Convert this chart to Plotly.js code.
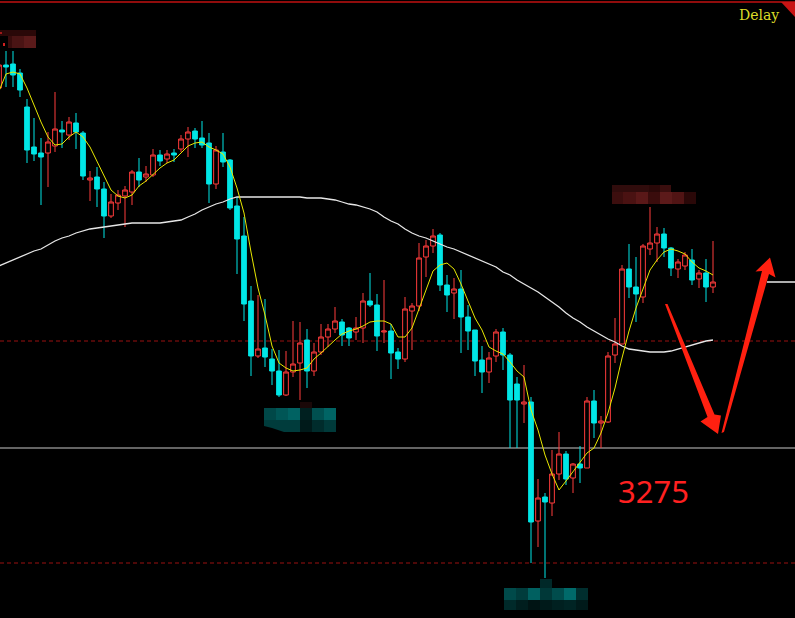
<!DOCTYPE html>
<html><head><meta charset="utf-8">
<script src="https://cdn.plot.ly/plotly-3.0.1.min.js"></script>
<style>html,body{margin:0;padding:0;background:#000;overflow:hidden}#chart{width:795px;height:618px}</style>
</head><body><div id="chart"></div>
<script>
// ---- data ----
const openP = [3455,3466.5,3467,3462.5,3445.5,3425.5,3422.5,3422.5,3426,3434,
3431.5,3437.5,3432.5,3409,3410.5,3404.5,3391,3397.5,3401,3403,
3413,3410.5,3411.5,3421.5,3419.5,3422.5,3424.5,3429.5,3433.5,3430,
3427.5,3407,3423,3419,3396,3381,3348.5,3321,3325,3319.5,
3313.5,3301.5,3313,3317.5,3329,3313.5,3323,3330.5,3334.5,3338,
3335,3333,3335,3348.5,3346.5,3333,3333.5,3323,3319.5,3343.5,
3346,3370.5,3376,3381.5,3356.5,3352.5,3354.5,3340.5,3334,3319,
3313,3321,3333,3321.5,3307,3297,3298,3238.5,3250.5,3247.5,
3262,3272,3260,3267,3265,3298.5,3287.5,3288,3321.5,3327,
3364.5,3355.5,3350.5,3374.5,3377.5,3382,3375,3364.5,3366,3369,
3359.5,3362.5,3355.5];
const highP = [3468,3473.5,3473.5,3464.5,3449.5,3440,3430,3433,3453,3438.5,
3440.5,3442.5,3433.5,3413.5,3415.5,3408,3402,3404,3406,3414,
3420,3416,3424.5,3424,3424,3424.5,3431.5,3435.5,3435,3438.5,
3432.5,3426,3432.5,3419.5,3400.5,3390.5,3356,3351.5,3349.5,3324.5,
3324,3323.5,3338.5,3338,3334.5,3327.5,3337,3337,3345.5,3339.5,
3335.5,3340.5,3352.5,3362.5,3352,3359,3337,3325,3350.5,3347.5,
3377.5,3379,3384.5,3382.5,3361.5,3360,3364,3346.5,3334,3326,
3323,3334.5,3335,3322.5,3310.5,3316.5,3300.5,3259.5,3252.5,3274,
3283,3273.5,3267.5,3276,3300.5,3304,3291,3323,3340,3366.5,
3377,3370.5,3377,3395.5,3385.5,3385,3375.5,3369.5,3373,3374.5,
3364,3369.5,3378.5];
const lowP = [3453,3455.5,3455.5,3450.5,3417.5,3418.5,3396.5,3405.5,3423,3425,
3429,3424.5,3409,3398.5,3395.5,3380,3390,3394,3385.5,3396.5,
3405.5,3408,3410.5,3416,3417.5,3418,3423,3420.5,3425,3425,
3397.5,3404.5,3415.5,3394,3362,3338.5,3311,3320,3315.5,3306.5,
3300.5,3301,3310.5,3299,3305,3311,3321.5,3325.5,3332.5,3326,
3326,3329,3327.5,3345.5,3323.5,3327.5,3309.5,3314.5,3318,3324,
3343.5,3360.5,3372.5,3353.5,3343,3339.5,3322.5,3324,3311,3302.5,
3307.5,3318,3314,3275,3275,3287.5,3217.5,3225.5,3210,3241,
3259,3256.5,3252.5,3257.5,3265,3280,3275,3287.5,3317.5,3327,
3350,3338,3347.5,3371.5,3368,3370.5,3361,3360,3364,3356.5,
3355,3348,3352.5];
const closeP = [3466.5,3465.5,3461.5,3454,3424,3422,3420.5,3428,3434.5,3433,
3438,3433,3411,3410,3404.5,3391,3398,3401.5,3404,3413,
3409,3412,3421.5,3418.5,3422,3421.5,3429.5,3433,3429.5,3426.5,
3407,3424,3418,3395,3379.5,3347,3321,3324.5,3320.5,3313.5,
3301.5,3313,3317,3327.5,3313.5,3323,3330.5,3334.5,3338.5,3331.5,
3330,3335,3348.5,3346.5,3331,3333.5,3322.5,3319.5,3344.5,3346,
3370,3376,3381,3356.5,3351.5,3354.5,3340.5,3333.5,3318.5,3313,
3320,3333,3321.5,3299,3299,3298,3238,3250,3248,3262,
3272,3259.5,3267,3265,3298.5,3287.5,3288.5,3321,3327,3364.5,
3355.5,3352,3376,3377.5,3382,3375,3365,3368,3371.5,3359,
3362.5,3355.5,3358];
const maShort = [3453.5,3462,3463,3462,3455,3446.5,3438,3430.5,3426.5,3427,
3430.5,3433,3430.5,3425.5,3418.5,3411.5,3404,3401,3400,3401.5,
3406,3408.5,3412,3415,3417.5,3419,3422.5,3426,3427.5,3428,
3425.5,3424,3422,3415.5,3405,3392.5,3373,3355,3341.5,3326,
3317.5,3315,3313.5,3314,3315,3319.5,3322.5,3326,3329,3332,
3333.5,3334.5,3336,3338,3338.5,3338.5,3337,3330.5,3330.5,3335,
3344,3354,3363.5,3366.5,3367.5,3364.5,3357,3348,3340,3334,
3325.5,3323.5,3322,3318,3313.5,3310.5,3294,3284,3271.5,3262,
3254,3258.5,3263,3268,3272.5,3275,3282.5,3292.5,3305,3320,
3333.5,3345,3354,3364,3369,3373,3374.5,3373.5,3372,3368,
3365,3363.5,3361.5];
const maLong = [3366,3367.5,3369,3370.5,3372,3373.5,3374.5,3376.5,3378.5,3380,
3381,3382.5,3383.5,3384.5,3385,3385.5,3386,3386.5,3387,3387.5,
3387.5,3387.5,3387.5,3387.5,3388,3388.5,3389,3390.5,3392,3394,
3395.5,3397,3398,3399.5,3400.5,3400.5,3400.5,3400.5,3400.5,3400.5,
3400.5,3400.5,3400.5,3400.5,3400,3400,3400,3399.5,3399,3398,
3397,3396.5,3395.5,3394.5,3393,3390.5,3388.5,3387,3384.5,3382.5,
3381,3380,3378.5,3377,3375.5,3374.5,3373,3371.5,3370,3368.5,
3367,3365.5,3363,3361.5,3359,3357,3355,3353,3350.5,3348,
3345.5,3342.5,3340,3338,3335.5,3333.5,3331.5,3329.5,3328,3326,
3324.5,3324,3323.5,3323,3323,3323,3323.5,3324.5,3325.5,3326.5,
3327.5,3328.5,3329];
const dashedLevels = [3328.5, 3217.5];
const solidLevel = 3275;
const lastPriceLevel = 3358;
const targetLabel = "3275";
const delayLabel = "Delay";

// ---- layout helpers (decoration only) ----
const W = 795, H = 618;
const idx = openP.map((_, i) => i);
const xRange = [1/7, 796/7];
const yRange = [3190, 3499];
function pp(x, y){ return [(x / W).toFixed(5), (1 - y / H).toFixed(5)]; }
function poly(pts, color){
  let d = '';
  pts.forEach((p, i) => { const q = pp(p[0], p[1]); d += (i ? 'L' : 'M') + q[0] + ',' + q[1]; });
  return {type:'path', xref:'paper', yref:'paper', path:d + 'Z', fillcolor:color, line:{width:0}, layer:'above'};
}
function rect(b){
  return {type:'rect', xref:'paper', yref:'paper', x0:b[0]/W, x1:b[2]/W, y0:1-b[3]/H, y1:1-b[1]/H,
          fillcolor:b[4], line:{width:0}, layer:'above'};
}
const blobs = [
  // top-left censored label
  [0,30,36,36,'#2a0808'],[8,36,12,48,'#380c0c'],[12,36,24,48,'#4a1414'],[24,36,36,48,'#5a1a1a'],
  [0,32,2,34,'#a01818'],[3,43,5,46,'#d02020'],
  // peak label
  [612,185,649,192,'#300c0c'],[649,185,660,192,'#2a0808'],[660,185,671,192,'#3a0e0e'],
  [612,192,623,204,'#3c0e0e'],[623,192,636,204,'#4a1212'],[636,192,648,204,'#5a1818'],
  [648,192,660,204,'#3a0c0c'],[660,192,672,204,'#5c1a1a'],[672,192,684,204,'#501414'],[684,192,696,204,'#2a0808'],
  // middle teal label
  [300,402,312,408,'#1a0808'],
  [264,408,276,420,'#004848'],[276,408,288,420,'#005656'],[288,408,300,420,'#006262'],
  [300,408,312,420,'#002020'],[312,408,324,420,'#005050'],[324,408,336,420,'#006464'],
  [300,420,312,432,'#001a1a'],[312,420,324,432,'#002c2c'],[324,420,336,432,'#003a3a'],
  // bottom teal label
  [540,579,552,588,'#002828'],
  [504,588,516,600,'#004a4a'],[516,588,528,600,'#003c3c'],[528,588,540,600,'#006060'],[540,588,552,600,'#003838'],
  [552,588,564,600,'#004c4c'],[564,588,576,600,'#006a6a'],[576,588,588,600,'#002e2e'],
  [504,600,516,610,'#002a2a'],[516,600,528,610,'#001e1e'],[528,600,540,610,'#001414'],[540,600,552,610,'#001a1a'],
  [552,600,564,610,'#002020'],[564,600,576,610,'#002424'],[576,600,588,610,'#001a1a']
];
const shapes = [];
dashedLevels.forEach(v => shapes.push({type:'line', xref:'paper', x0:0, x1:1, yref:'y', y0:v, y1:v,
  line:{color:'#9a1010', width:1, dash:'4px,3px'}, layer:'below'}));
shapes.push({type:'line', xref:'paper', x0:0, x1:1, yref:'y', y0:solidLevel, y1:solidLevel,
  line:{color:'#c8c8c8', width:1}, layer:'below'});
shapes.push({type:'line', xref:'x', x0:768/7, x1:xRange[1], yref:'y', y0:lastPriceLevel, y1:lastPriceLevel,
  line:{color:'#e8e8e8', width:1.5}});
blobs.forEach(b => shapes.push(rect(b)));
// slanted part of middle teal label
shapes.push(poly([[264,420],[300,420],[300,432],[284,432],[272,428],[264,426]], '#003c3c'));
// top red border and corner triangle
shapes.push({type:'line', xref:'paper', yref:'paper', x0:0, x1:1, y0:1-2/H, y1:1-2/H, line:{color:'#c01010', width:1.5}, layer:'above'});
shapes.push(poly([[781,2],[795,2],[795,17]], '#c81414'));
// red arrows
shapes.push(poly([[665,304],[667.5,304],[714.5,414.5],[721,415.5],[718,434],[700.5,421.5],[707.5,417]], '#ff2010'));
shapes.push(poly([[721.5,433],[762,271],[755.5,271.5],[770,257.5],[775.5,277.5],[769,274],[724,432]], '#ff2010'));

const traces = [
  {type:'candlestick', x:idx, open:openP, high:highP, low:lowP, close:closeP,
   increasing:{line:{color:'#ff3c3c', width:1}, fillcolor:'#000000'},
   decreasing:{line:{color:'#00e6e6', width:1}, fillcolor:'#00e6e6'},
   whiskerwidth:0, hoverinfo:'skip'},
  {type:'scatter', mode:'lines', x:idx, y:maLong, line:{color:'#e6e6e6', width:1.3}, hoverinfo:'skip'},
  {type:'scatter', mode:'lines', x:idx, y:maShort, line:{color:'#e8e800', width:1}, hoverinfo:'skip'}
];
const layout = {
  width:W, height:H, margin:{l:0, r:0, t:0, b:0},
  paper_bgcolor:'#000000', plot_bgcolor:'#000000', showlegend:false,
  boxgap:0.18, boxgroupgap:0.18,
  xaxis:{range:xRange, visible:false, showgrid:false, zeroline:false, rangeslider:{visible:false}, fixedrange:true},
  yaxis:{range:yRange, visible:false, showgrid:false, zeroline:false, fixedrange:true},
  shapes:shapes,
  annotations:[
    {xref:'paper', yref:'paper', x:653/W, y:1-491/H, xanchor:'center', yanchor:'middle', showarrow:false,
     text:targetLabel, font:{family:'Noto Sans, Liberation Sans, sans-serif', size:31, color:'#ff2020'}},
    {xref:'paper', yref:'paper', x:781/W, y:1-15/H, xanchor:'right', yanchor:'middle', showarrow:false,
     text:delayLabel, font:{family:'DejaVu Serif, serif', size:14, color:'#dcdc28'}}
  ]
};
Plotly.newPlot('chart', traces, layout, {staticPlot:true, displayModeBar:false});
</script>
</body></html>
